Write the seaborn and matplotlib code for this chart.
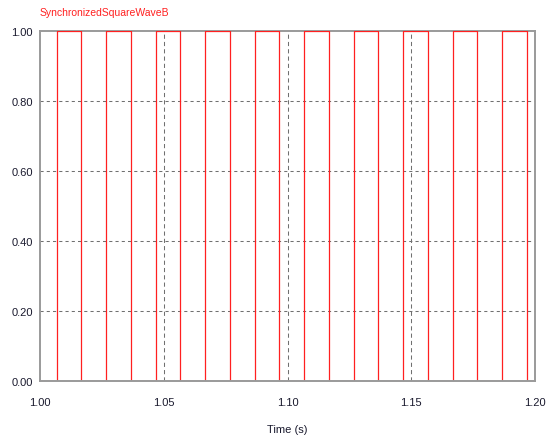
import matplotlib
matplotlib.use("Agg")
import matplotlib.pyplot as plt
import seaborn as sns
import pandas as pd

# Edge times of the synchronized square wave (s)
rise_times = [1.0067, 1.0267, 1.0467, 1.0667, 1.0867, 1.1067, 1.1267, 1.1467, 1.1667, 1.1867]
fall_times = [1.0167, 1.0367, 1.0567, 1.0767, 1.0967, 1.1167, 1.1367, 1.1567, 1.1767, 1.1967]
low_level = 0.0
high_level = 1.0
t_start, t_end = 1.00, 1.20

x_ticks = [1.00, 1.05, 1.10, 1.15, 1.20]
y_ticks = [0.00, 0.20, 0.40, 0.60, 0.80, 1.00]
title = "SynchronizedSquareWaveB"
x_label = "Time (s)"

# build step-series table
times = [t_start]
vals = [low_level]
for r, f in zip(rise_times, fall_times):
    times += [r, r, f, f]
    vals += [low_level, high_level, high_level, low_level]
times.append(t_end)
vals.append(low_level)
df = pd.DataFrame({"t": times, "v": vals, "idx": range(len(times))})

sns.set_theme(style="white")
plt.rcParams['font.family'] = ['Liberation Sans', 'DejaVu Sans']

fig = plt.figure(figsize=(5.53, 4.39), dpi=100)
ax = fig.add_axes([40/553, 1-381.7/439, (535-40)/553, (381.7-31.5)/439])

sns.lineplot(data=df, x="t", y="v", sort=False, estimator=None, ax=ax,
             color="#ff2020", linewidth=0.9, zorder=3)

ax.set_xlim(t_start, t_end)
ax.set_ylim(0, 1)
ax.set_xticks(x_ticks)
ax.set_yticks(y_ticks)
ax.set_xticklabels([f"{v:.2f}" for v in x_ticks])
ax.set_yticklabels([f"{v:.2f}" for v in y_ticks])
ax.tick_params(axis='both', length=0, labelsize=8, colors="#1a1a2e")
ax.tick_params(axis='x', pad=12)
ax.tick_params(axis='y', pad=5)

for v in x_ticks[1:-1]:
    ax.axvline(v, color="#707070", linewidth=0.75, linestyle=(0, (4, 3)), zorder=1)
for v in y_ticks[1:-1]:
    ax.axhline(v, color="#707070", linewidth=0.75, linestyle=(0, (3, 3)), zorder=1)

for name, sp in ax.spines.items():
    sp.set_color("#9a9a9a")
    sp.set_linewidth(1.4)
ax.spines['bottom'].set_zorder(4)
ax.spines['left'].set_zorder(4)
ax.spines['top'].set_zorder(2)
ax.spines['right'].set_zorder(2)

ax.set_xlabel(x_label, fontsize=8, color="#1a1a2e", labelpad=12)
ax.set_ylabel("")
fig.text(40/553, 1-13/439, title, color="#ff2020", fontsize=7.5, ha="left", va="center")

fig.savefig("out.png", dpi=100)
